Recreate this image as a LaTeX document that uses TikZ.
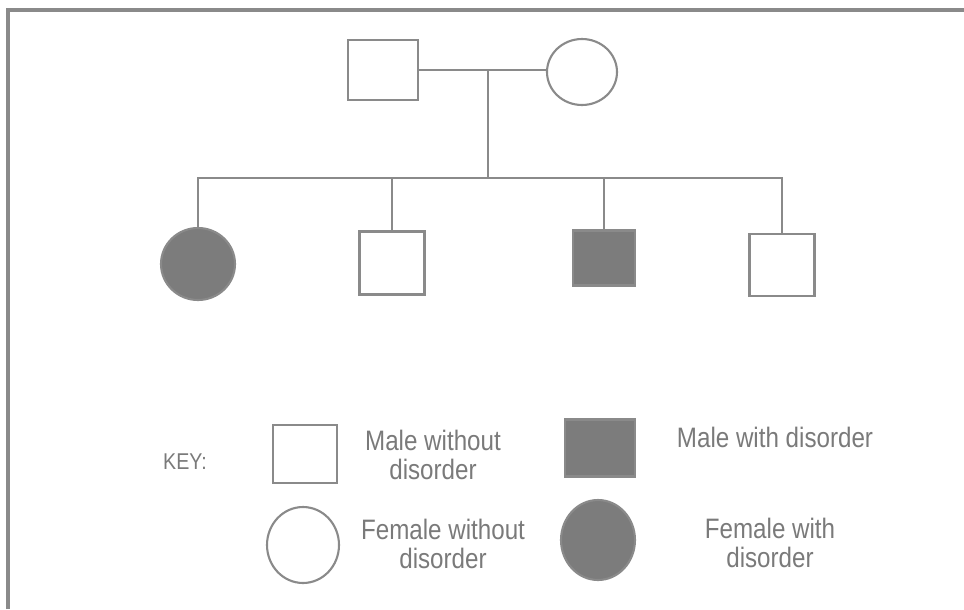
\documentclass[tikz,border=0pt]{standalone}
\usepackage{fontspec}
\setmainfont{Liberation Sans}
\newfontfamily\keyfont[FakeStretch=0.86]{Liberation Sans}
\usetikzlibrary{positioning}
\usetikzlibrary{shapes,arrows}
\definecolor{pedgray}{HTML}{8A8A8A}
\definecolor{pedtext}{HTML}{7A7A7A}
\definecolor{pedfill}{HTML}{7C7C7C}
\tikzset{%
  male/.style     = {draw=pedgray, line width=1.2pt, rectangle, inner sep=0pt}, % Male
  female/.style   = {draw=pedgray, line width=1.2pt, ellipse, inner sep=0pt}, % Female
  affected/.style = {fill=pedfill},
  line/.style     = {draw=pedgray, line width=1.2pt},
  keytext/.style  = {text=pedtext, align=center, font=\keyfont\fontsize{16}{17}\selectfont}
}

\begin{document}
\begin{tikzpicture}[x=0.02cm, y=-0.02cm]
  \useasboundingbox (0,0) rectangle (964,609);
  \draw[line, line width=2pt] (8,609) -- (8,10) -- (964,10);

  % parents
  \draw node at (383,70) [male, minimum width=1.4cm, minimum height=1.2cm] (father) {};
  \draw node at (582,72) [female, minimum width=1.4cm, minimum height=1.32cm] (mother) {};

  % children
  \draw node at (198,264) [female, affected, minimum width=1.48cm, minimum height=1.44cm] (daughter) {};
  \draw node at (392,263) [male, minimum width=1.3cm, minimum height=1.26cm] (son1) {};
  \draw node at (604,258) [male, affected, minimum width=1.24cm, minimum height=1.1cm] (son2) {};
  \draw node at (782,265) [male, minimum width=1.3cm, minimum height=1.24cm] (son3) {};

  \coordinate (mate) at (488,70);
  \coordinate (sibs) at (488,178);

  \draw[line] (father.east |- mate) -- (mother.west |- mate);
  \draw[line] (mate) -- (sibs);
  \draw[line] (sibs) -| (daughter.north);
  \draw[line] (sibs) -| (son1.north);
  \draw[line] (sibs) -| (son2.north);
  \draw[line] (sibs) -| (son3.north);

  % key
  \draw node at (185,462) [text=pedtext, font=\keyfont\fontsize{13}{15}\selectfont] (key) {KEY:};
  \draw node at (305,454) [male, minimum width=1.28cm, minimum height=1.16cm] (keymale) {};
  \draw node at (600,448) [male, affected, minimum width=1.4cm, minimum height=1.14cm] (keymaleaff) {};
  \draw node at (303,545) [female, minimum width=1.44cm, minimum height=1.52cm] (keyfemale) {};
  \draw node at (598,540) [female, affected, minimum width=1.48cm, minimum height=1.6cm] (keyfemaleaff) {};

  \draw node at (433,455) [keytext] (malelabel) {Male without\\disorder};
  \draw node at (775,437) [keytext] (maleafflabel) {Male with disorder};
  \draw node at (443,544) [keytext] (femalelabel) {Female without\\disorder};
  \draw node at (770,543) [keytext] (femaleafflabel) {Female with\\disorder};

\end{tikzpicture}
\end{document}
